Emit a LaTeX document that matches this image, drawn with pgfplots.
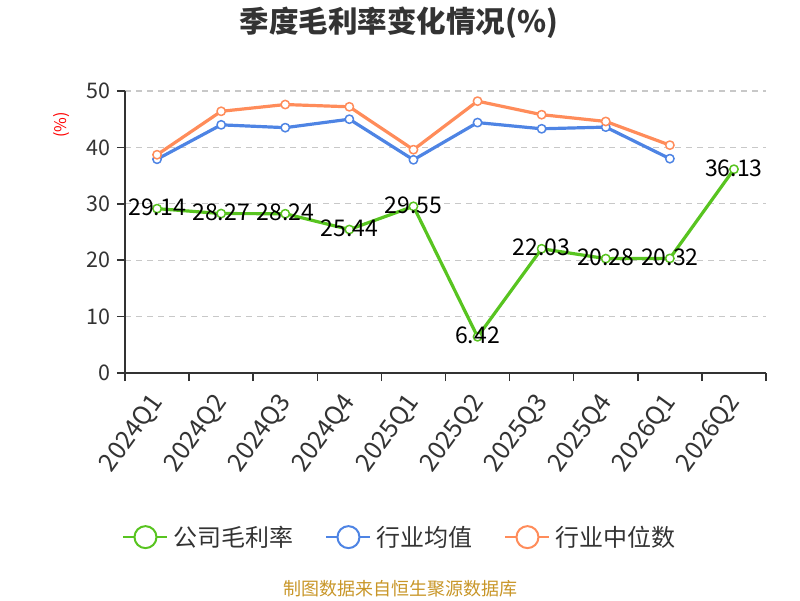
\documentclass[border=0pt]{standalone}
\usepackage{pgfplots}
\pgfplotsset{compat=1.18}
\usepackage{fontspec}
\setmainfont{Noto Sans CJK SC}
\definecolor{cgreen}{RGB}{88,196,32}
\definecolor{cblue}{RGB}{78,132,228}
\definecolor{corange}{RGB}{255,140,90}
\definecolor{axcol}{RGB}{51,51,51}
\definecolor{gridcol}{RGB}{200,200,200}
\definecolor{srccol}{RGB}{200,150,40}
\pgfplotstableread{
x y lab
0.5 29.14 29.14
1.5 28.27 28.27
2.5 28.24 28.24
3.5 25.44 25.44
4.5 29.55 29.55
5.5 6.42 6.42
6.5 22.03 22.03
7.5 20.28 20.28
8.5 20.32 20.32
9.5 36.13 36.13
}\gross
\pgfplotstableread{
x y
0.5 37.9
1.5 44.0
2.5 43.5
3.5 45.0
4.5 37.8
5.5 44.4
6.5 43.3
7.5 43.6
8.5 38.0
}\avg
\pgfplotstableread{
x y
0.5 38.7
1.5 46.4
2.5 47.6
3.5 47.2
4.5 39.6
5.5 48.2
6.5 45.8
7.5 44.6
8.5 40.4
}\med
\begin{document}
\begin{tikzpicture}
\path[use as bounding box] (0pt,0pt) rectangle (800pt,600pt);
\node[font=\fontsize{29.5}{33}\selectfont\bfseries, text=axcol] at (399pt,577pt) {季度毛利率变化情况(\%)};
\node[font=\fontsize{16}{18}\selectfont, text=red, rotate=90] at (62pt,475pt) {(\%)};
\node[font=\fontsize{18}{20}\selectfont, text=srccol] at (400pt,11pt) {制图数据来自恒生聚源数据库};
\begin{axis}[
  at={(125pt,227pt)}, anchor=south west, width=641pt, height=282pt, scale only axis,
  xmin=0, xmax=10, ymin=0, ymax=50, clip=false,
  axis x line*=bottom, axis y line*=left,
  axis line style={draw=axcol, line width=1.5pt},
  ytick={0,10,...,50},
  xtick={0,1,...,10}, xticklabels={},
  extra x ticks={0.5,1.5,2.5,3.5,4.5,5.5,6.5,7.5,8.5,9.5},
  extra x tick labels={2024Q1,2024Q2,2024Q3,2024Q4,2025Q1,2025Q2,2025Q3,2025Q4,2026Q1,2026Q2},
  extra x tick style={major tick length=0pt, grid=none},
  tick align=outside, major tick length=8pt,
  tick style={draw=axcol, line width=1.5pt},
  ymajorgrids, grid style={draw=gridcol, line width=1.2pt, dash pattern=on 6pt off 5pt},
  /pgf/number format/assume math mode=true,
  yticklabel style={font=\fontsize{21.5}{24}\selectfont, text=axcol, xshift=-3pt},
  xticklabel style={font=\fontsize{25}{28}\selectfont, text=axcol, yshift=-22pt, xshift=3pt, rotate=54, anchor=east},
  legend style={at={(0.429,-0.582)}, anchor=center, draw=none, fill=none,
    font=\fontsize{24}{27}\selectfont, text=axcol,
    /tikz/every even column/.append style={column sep=30pt},
    /tikz/every odd column/.append style={column sep=3pt}},
  legend columns=3,
  legend image code/.code={
    \draw[#1, line width=2pt] (0pt,0pt) -- (44pt,0pt);
    \draw[#1, line width=2pt, fill=white] (22pt,0pt) circle (11pt);
  },
  every axis plot/.append style={line width=3.2pt, line join=round, mark=*, mark size=4.2pt},
]
\addplot[cgreen, mark options={fill=white, draw=cgreen, line width=1.5pt},
  nodes near coords, point meta=explicit symbolic,
  every node near coord/.append style={anchor=center, text=black, yshift=1pt, font=\fontsize{23}{26}\selectfont}]
  table[x=x, y=y, meta=lab] {\gross};
\addlegendentry{公司毛利率}
\addplot[cblue, mark options={fill=white, draw=cblue, line width=1.5pt}] table[x=x, y=y] {\avg};
\addlegendentry{行业均值}
\addplot[corange, mark options={fill=white, draw=corange, line width=1.5pt}] table[x=x, y=y] {\med};
\addlegendentry{行业中位数}
\end{axis}
\end{tikzpicture}
\end{document}
